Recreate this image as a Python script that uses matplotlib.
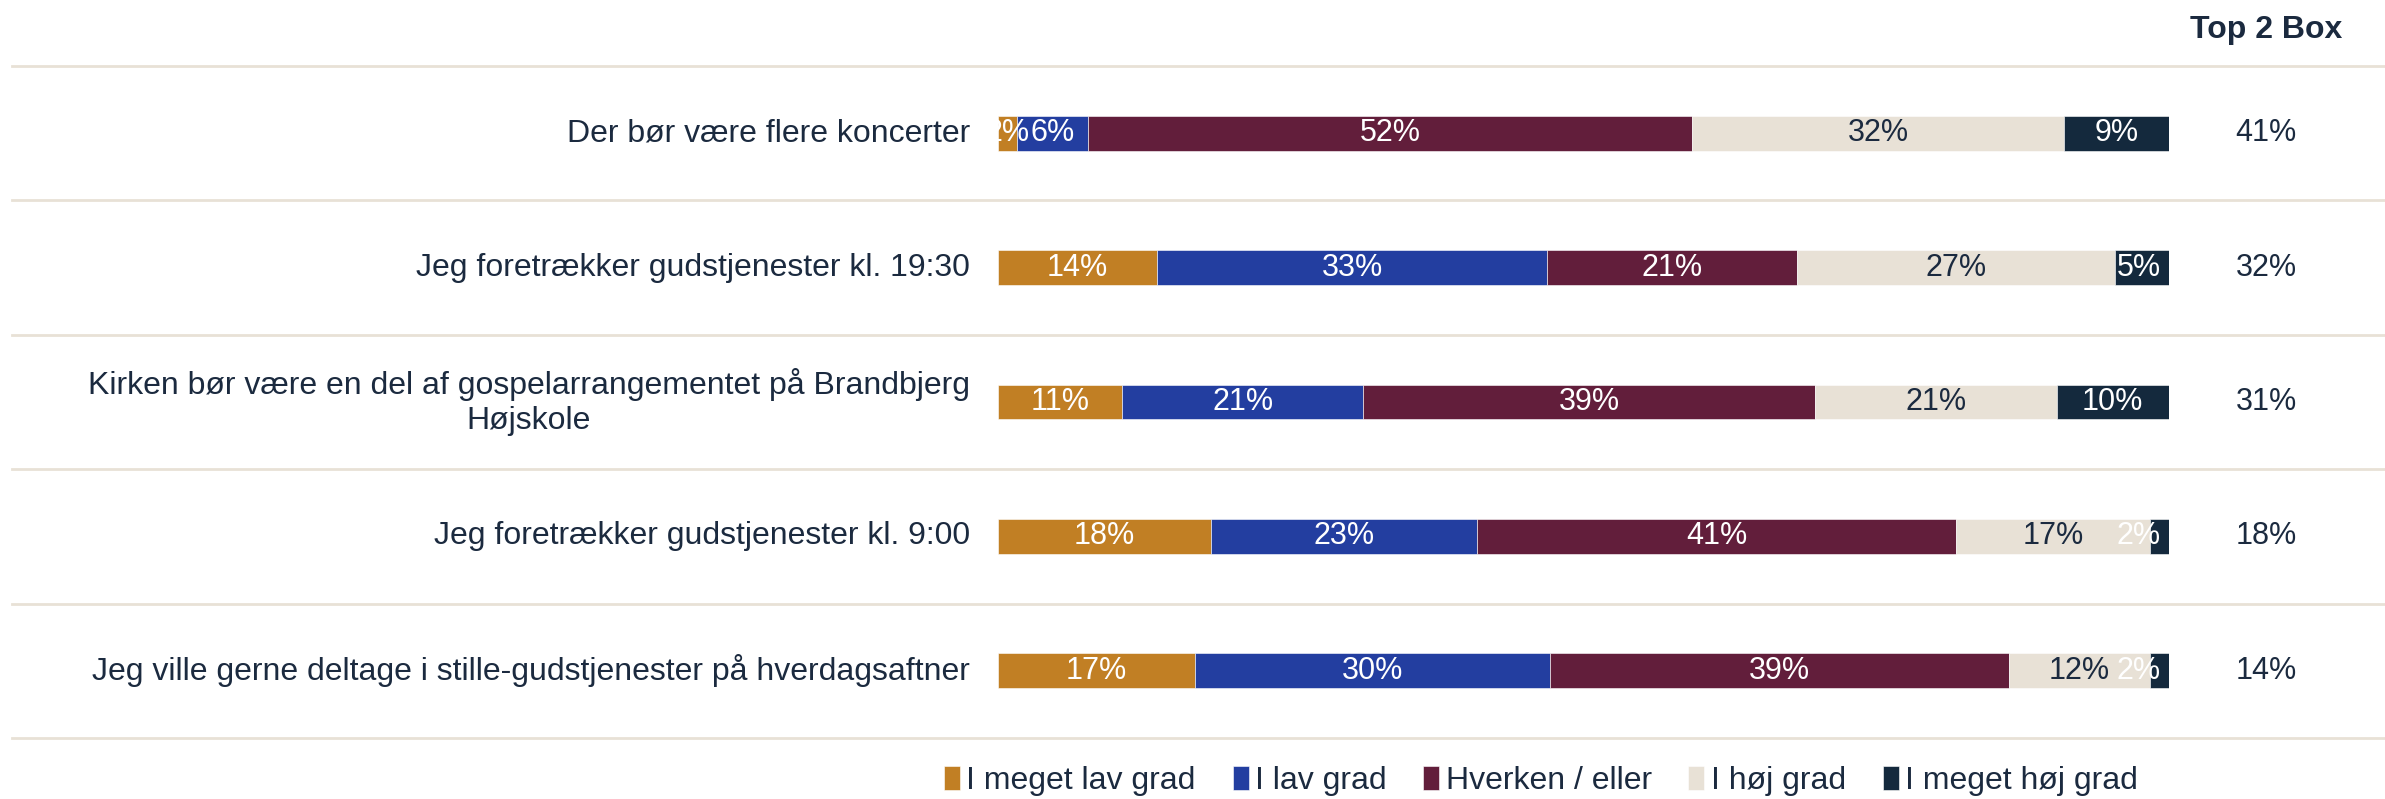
import matplotlib.pyplot as plt
import numpy as np

plt.rcParams["font.family"] = ["Liberation Sans", "DejaVu Sans"]

# Statements (top to bottom)
statements = [
    "Der bør være flere koncerter",
    "Jeg foretrækker gudstjenester kl. 19:30",
    "Kirken bør være en del af gospelarrangementet på Brandbjerg\nHøjskole",
    "Jeg foretrækker gudstjenester kl. 9:00",
    "Jeg ville gerne deltage i stille-gudstjenester på hverdagsaftner",
]

# Answer categories
categories = ["I meget lav grad", "I lav grad", "Hverken / eller", "I høj grad", "I meget høj grad"]

# Shares (%) per category, one value per statement
meget_lav = [1.6, 13.6, 10.6, 18.2, 16.8]
lav = [6.1, 33.3, 20.6, 22.7, 30.3]
hverken = [51.6, 21.3, 38.6, 40.9, 39.2]
hoej = [31.7, 27.2, 20.6, 16.6, 12.1]
meget_hoej = [9.0, 4.6, 9.6, 1.6, 1.6]

top2box = [41, 32, 31, 18, 14]

colors = ["#C17F24", "#233EA0", "#621E3B", "#E8E1D6", "#14293D"]
label_colors = ["white", "white", "white", "#1B2A3F", "white"]
text_color = "#1B2A3F"
line_color = "#E8E1D6"

series = [meget_lav, lav, hverken, hoej, meget_hoej]

fig = plt.figure(figsize=(23.85, 7.99), dpi=100)
# axes spans the bar area; figure is 2385 x 799 px
ax = fig.add_axes([998 / 2385, 1 - 738 / 799, 1171 / 2385, 672 / 799])

y = np.arange(len(statements))
left = np.zeros(len(statements))
for vals, cat, col, lcol in zip(series, categories, colors, label_colors):
    vals = np.array(vals)
    ax.barh(y, vals, left=left, height=0.26, color=col, label=cat,
            edgecolor="white", linewidth=0.4)
    for yi, l, v in zip(y, left, vals):
        # keep labels of tiny end segments inside the bar
        xc = min(l + v / 2, 100 - 2.6)
        ax.text(xc, yi, f"{v:.0f}%", ha="center", va="center",
                color=lcol, fontsize=22, clip_on=True)
    left += vals

ax.set_xlim(0, 100)
ax.set_ylim(len(statements) - 0.5, -0.5)
ax.axis("off")

# row separators spanning the whole width
for b in np.arange(-0.5, len(statements), 1.0):
    ax.axhline(b, xmin=-0.842, xmax=1.184, color=line_color, lw=2, clip_on=False)

# statement labels
for yi, s in zip(y, statements):
    ax.text(-2.4, yi, s, ha="right", va="center", multialignment="center",
            fontsize=23, color=text_color)

# Top 2 Box column
top_x = 100 + (2266 - 2169) / 11.71
fig.text(2266 / 2385, 1 - 30 / 799, "Top 2 Box", ha="center", va="center",
         fontsize=23, fontweight="bold", color=text_color)
for yi, t in zip(y, top2box):
    ax.text(top_x, yi, f"{t}%", ha="center", va="center",
            fontsize=22, color=text_color)

fig.legend(loc="center", bbox_to_anchor=(1541 / 2385, 1 - 781 / 799), ncol=5,
           frameon=False, fontsize=23, handlelength=0.5, handleheight=0.8,
           handletextpad=0.2, columnspacing=1.15, labelcolor=text_color,
           borderaxespad=0)

fig.savefig("out.png", dpi=100)
